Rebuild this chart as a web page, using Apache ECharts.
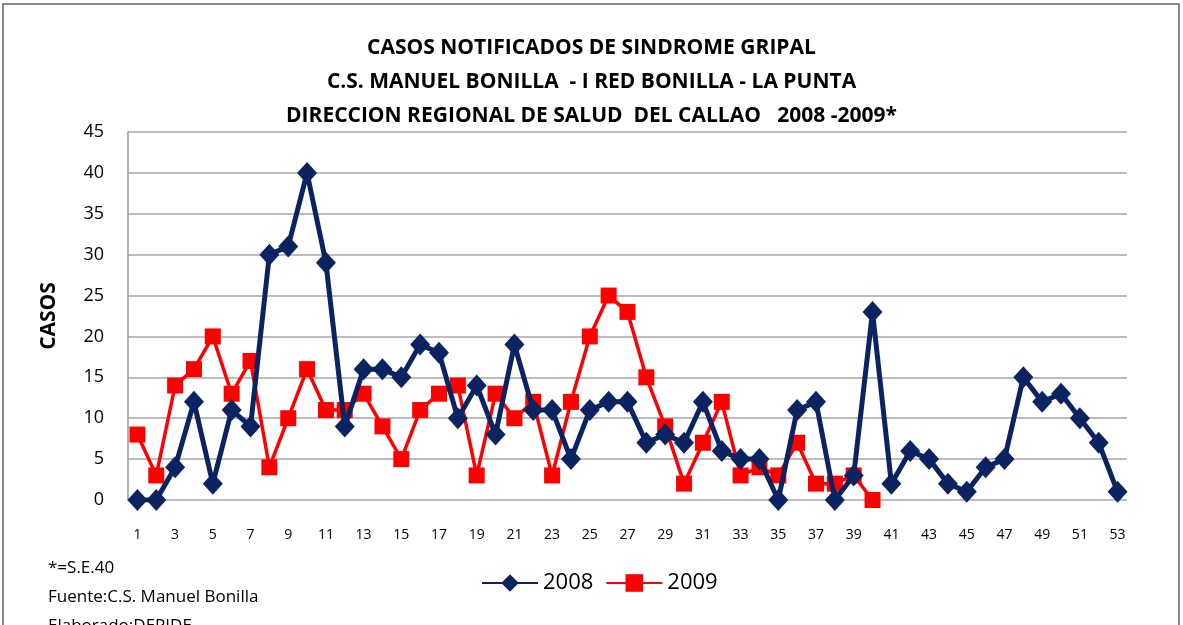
<!DOCTYPE html>
<html>
<head>
<meta charset="utf-8">
<script src="https://cdn.jsdelivr.net/npm/echarts@6/dist/echarts.min.js"></script>
<style>
  html, body { margin: 0; padding: 0; background: #fff; }
  #chart-container { width: 1183px; height: 625px; }
</style>
</head>
<body>
<div id="chart-container"></div>
<script>
var weeks = [];
for (var w = 1; w <= 53; w++) weeks.push(String(w));

var casos2008 = [0, 0, 4, 12, 2, 11, 9, 30, 31, 40, 29, 9, 16, 16, 15, 19, 18, 10, 14, 8,
  19, 11, 11, 5, 11, 12, 12, 7, 8, 7, 12, 6, 5, 5, 0, 11, 12, 0, 3, 23,
  2, 6, 5, 2, 1, 4, 5, 15, 12, 13, 10, 7, 1];
var casos2009 = [8, 3, 14, 16, 20, 13, 17, 4, 10, 16, 11, 11, 13, 9, 5, 11, 13, 14, 3, 13,
  10, 12, 3, 12, 20, 25, 23, 15, 9, 2, 7, 12, 3, 4, 3, 7, 2, 2, 3, 0];

var titleLines = [
  'CASOS NOTIFICADOS DE SINDROME GRIPAL',
  'C.S. MANUEL BONILLA  - I RED BONILLA - LA PUNTA',
  'DIRECCION REGIONAL DE SALUD  DEL CALLAO   2008 -2009*'
];
var notes = ['*=S.E.40', 'Fuente:C.S. Manuel Bonilla', 'Elaborado:DEPIDE'];

var dom = document.getElementById('chart-container');
var myChart = echarts.init(dom, null, { renderer: 'canvas' });

var font = '"Open Sans", "Noto Sans", sans-serif';
var navy = '#0b2461';
var red = '#ff0000';

var option = {
  backgroundColor: '#fff',
  textStyle: { fontFamily: font },
  title: {
    text: titleLines.join('\n'),
    left: 'center',
    top: 26,
    textStyle: { fontSize: 21, fontWeight: 'bold', color: '#000', lineHeight: 34, fontFamily: font }
  },
  graphic: [
    {
      type: 'rect',
      shape: { x: 3, y: 4, width: 1176, height: 640 },
      style: { fill: 'none', stroke: '#888', lineWidth: 2 }
    },
    {
      type: 'text',
      left: 48,
      top: 554,
      style: { text: notes.join('\n'), font: '17px ' + font, lineHeight: 29, fill: '#000' }
    }
  ],
  legend: {
    data: ['2008', '2009'],
    left: 476,
    top: 567,
    itemWidth: 56,
    itemHeight: 22,
    itemGap: 12,
    textStyle: { fontSize: 22, color: '#000', fontFamily: font }
  },
  grid: { left: 128, right: 56, top: 132, bottom: 125 },
  xAxis: {
    type: 'category',
    data: weeks,
    boundaryGap: true,
    axisLine: { show: false },
    axisTick: { show: false },
    axisLabel: { interval: 1, color: '#000', fontSize: 14, margin: 28, fontFamily: font }
  },
  yAxis: {
    type: 'value',
    name: 'CASOS',
    nameLocation: 'middle',
    nameGap: 68,
    nameTextStyle: { fontSize: 21, fontWeight: 'bold', color: '#000', fontFamily: font },
    min: 0,
    max: 45,
    interval: 5,
    axisLine: { show: true, lineStyle: { color: '#999', width: 1.5 } },
    axisTick: { show: false },
    axisLabel: { color: '#000', fontSize: 18, margin: 24, fontFamily: font },
    splitLine: { lineStyle: { color: '#a6a6a6', width: 1.5 } }
  },
  series: [
    {
      name: '2008',
      type: 'line',
      data: casos2008,
      symbol: 'diamond',
      symbolSize: [20, 22],
      showAllSymbol: true,
      itemStyle: { color: navy },
      lineStyle: { color: navy, width: 5 },
      z: 3
    },
    {
      name: '2009',
      type: 'line',
      data: casos2009,
      symbol: 'rect',
      symbolSize: [16, 16],
      showAllSymbol: true,
      itemStyle: { color: red },
      lineStyle: { color: red, width: 3.5 },
      z: 2
    }
  ]
};

if (option && typeof option === 'object') {
  myChart.setOption(option);
}

window.addEventListener('resize', myChart.resize);
</script>
</body>
</html>
